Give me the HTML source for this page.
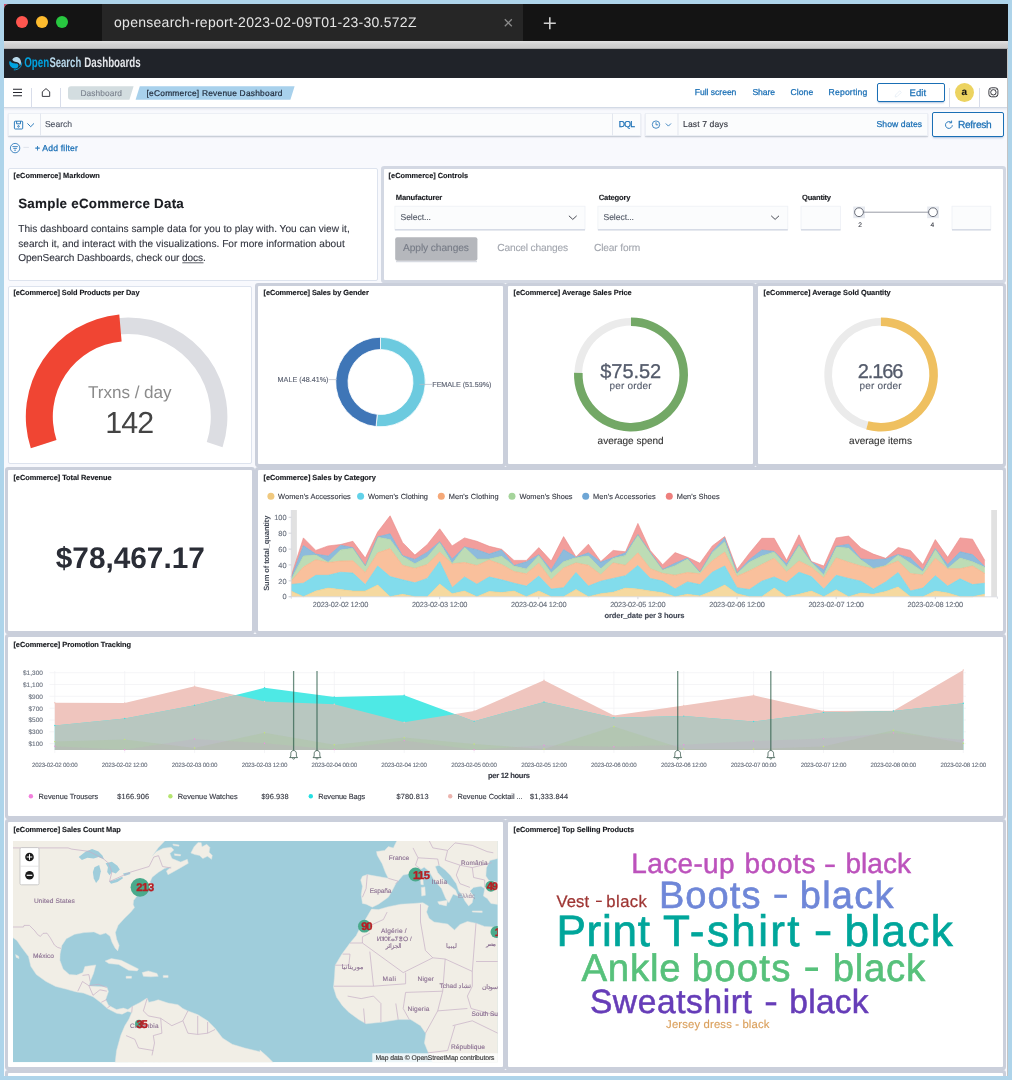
<!DOCTYPE html>
<html lang="en">
<head>
<meta charset="utf-8">
<title>opensearch-report-2023-02-09T01-23-30.572Z</title>
<style>
*{box-sizing:border-box;margin:0;padding:0}
html,body{width:1012px;height:1080px;overflow:hidden}
body{background:#aed4ea;font-family:"Liberation Sans",sans-serif;position:relative}
.win{position:absolute;left:4px;top:4px;width:1004px;height:1072px;background:#f8f9fd;overflow:hidden;border-radius:5px 0 0 0}
.corner{position:absolute;left:4px;top:4px;width:6px;height:6px;background:#d0506e}
.titlebar{position:absolute;left:0;top:0;width:1004px;height:37px;background:#141414}
.tab{position:absolute;left:98px;top:0;width:421px;height:37px;background:#262626}
.dot{position:absolute;top:12px;width:12px;height:12px;border-radius:50%}
.strip{position:absolute;left:0;top:37px;width:1004px;height:8px;background:linear-gradient(#e2e2e2,#d2d2d2 40%,#cbcbcb 85%,#9a9a9a)}
.header{position:absolute;left:0;top:45px;width:1002.8px;height:29px;background:#202329}
.nav{position:absolute;left:0;top:74px;width:1003px;height:30px;background:#fff;border-bottom:1px solid #d3dae6;box-shadow:0 1px 2px rgba(150,160,185,.25)}
.vsep{position:absolute;top:84px;width:1px;height:20px;background:#d8ddea}
.crumb{position:absolute;top:82px;height:14px}
.box{position:absolute;background:#fbfcfd;border:1px solid #eceff5;box-shadow:0 1px 1px rgba(152,162,179,.35),0 2px 2px -1px rgba(152,162,179,.3)}
.btn{position:absolute;border:1px solid #1a6fb5;border-radius:2px;background:#fff;box-shadow:0 2px 2px -1px rgba(80,120,180,.45)}
.panel{position:absolute;background:#fff;border-radius:2px}
.md{border:1px solid #dde3ee}
.ctl{box-shadow:0 0 0 3px #d3d8e3;border-radius:1px}
.bd{box-shadow:0 0 0 3px #cacfdb;border-radius:1px}
.redge{position:absolute;left:1002.8px;top:45px;width:1.2px;height:1027px;background:#c4c4c4;z-index:5}
.avatar{position:absolute;left:950.9px;top:79.1px;width:19px;height:19px;border-radius:50%;background:#ecd360}
svg.ov{position:absolute;left:0;top:0;width:1012px;height:1080px;font-family:"Liberation Sans",sans-serif;will-change:transform;text-rendering:geometricPrecision}
</style>
</head>
<body>
<div class="corner"></div>
<div class="win">
  <div class="titlebar">
    <div class="tab"></div>
    <div class="dot" style="left:12px;background:#ff564f"></div>
    <div class="dot" style="left:32px;background:#febc2e"></div>
    <div class="dot" style="left:52px;background:#28c840"></div>
  </div>
  <div class="strip"></div>
  <div class="header"></div>
  <div class="redge"></div>
  <div class="nav"></div>
  <div class="vsep" style="left:27px"></div>
  <div class="vsep" style="left:56px"></div>
  <div class="vsep" style="left:945px"></div>
  <div class="vsep" style="left:975px"></div>
  <div class="avatar"></div>
  <div class="btn" style="left:873px;top:79px;width:68px;height:19px"></div>
  <!-- query bar -->
  <div class="box" style="left:4px;top:109px;width:633px;height:23px"></div>
  <div class="box" style="left:641.4px;top:109px;width:282.6px;height:23px"></div>
  <div class="btn" style="left:928px;top:108px;width:72px;height:25px;background:#fbfcfd"></div>
  <!-- dashboard -->
  <div class="panel md"  style="left:3.6px;top:164px;width:370px;height:112.5px"></div>
  <div class="panel ctl" style="left:379.5px;top:164.8px;width:619.3px;height:111.3px"></div>
  <div class="panel md" style="left:4.2px;top:281.7px;width:244.2px;height:178.6px"></div>
  <div class="panel bd" style="left:254.3px;top:281.7px;width:244.7px;height:178.6px"></div>
  <div class="panel bd" style="left:504.1px;top:281.7px;width:244.9px;height:178.6px"></div>
  <div class="panel bd" style="left:754.4px;top:281.7px;width:244.2px;height:178.6px"></div>
  <div class="panel bd" style="left:4.2px;top:465.8px;width:244.2px;height:161.7px"></div>
  <div class="panel bd" style="left:254.3px;top:465.8px;width:744.3px;height:161.7px"></div>
  <div class="panel bd" style="left:4.2px;top:633.4px;width:994.4px;height:178.4px"></div>
  <div class="panel bd" style="left:4.2px;top:818.3px;width:494.8px;height:244.7px"></div>
  <div class="panel bd" style="left:504.1px;top:818.3px;width:494.5px;height:244.7px"></div>
  <div class="panel bd" style="left:4.2px;top:1069px;width:994.4px;height:10px"></div>
</div>
<svg class="ov" viewBox="0 0 1012 1080">
<text x="114.0" y="26.6" font-size="14" fill="#e6e6e6" textLength="302.5" lengthAdjust="spacing">opensearch-report-2023-02-09T01-23-30.572Z</text>
<path d="M504.8,19.3 l7,7 m0,-7 l-7,7" stroke="#8a8a8a" stroke-width="1.3" fill="none"/>
<path d="M543.8,23.2 h12 m-6,-6 v12" stroke="#d0d0d0" stroke-width="1.6" fill="none"/>
<g transform="translate(15.4,63.3)"><path d="M-6.2,-1.5 C-6.5,2.5 -3.5,5.6 0.2,5.2 C2.6,4.9 3.8,2.6 2.6,1 C1.4,-0.6 -1.6,0.6 -3.4,-0.6 C-4.8,-1.6 -5.2,-2.6 -6.2,-1.5 Z" fill="#00a3e0"/><path d="M-3,-3.8 C-2,-6.6 2.4,-7.2 4.6,-4.4 C6.2,-2.3 5.8,0.8 4.4,2.6 C4.6,0.4 3.2,-0.9 1,-1.2 C-1,-1.5 -2.8,-2.2 -3,-3.8 Z" fill="#b9d9eb"/><path d="M6.3,-0.8 C6.6,3.6 3,6.6 -1.6,6.6" stroke="#00a3e0" stroke-width="0.9" fill="none"/></g>
<text transform="translate(24.2,67.0) scale(0.699,1)" font-size="14" fill="#00a3e0" font-weight="bold">Open</text>
<text transform="translate(49.4,67.0) scale(0.681,1)" font-size="14" fill="#b9d9eb" font-weight="bold">Search</text>
<text transform="translate(84.3,67.0) scale(0.697,1)" font-size="14" fill="#e4e6ea" font-weight="bold">Dashboards</text>
<path d="M13,89.3 h9 M13,92.5 h9 M13,95.7 h9" stroke="#25262e" stroke-width="1.1"/>
<path d="M42.3,96.4 v-4.6 l3.7,-3.2 l3.7,3.2 v4.6 z" stroke="#25262e" stroke-width="0.9" fill="none"/>
<path d="M71,86.2 H133.6 L129.4,99.8 H71 a3,3 0 0 1 -3,-3 V89.2 a3,3 0 0 1 3,-3 z" fill="#d3dde0"/>
<path d="M139.8,86.2 H294.6 L290.4,99.8 H135.6 z" fill="#a8d1ec"/>
<text x="80.5" y="95.8" font-size="8.4" fill="#7b828e" textLength="41.5" lengthAdjust="spacing" stroke="#7b828e" stroke-width="0.12">Dashboard</text>
<text x="146.5" y="95.8" font-size="8.4" fill="#1f2a3a" textLength="136.0" lengthAdjust="spacing" stroke="#1f2a3a" stroke-width="0.2">[eCommerce] Revenue Dashboard</text>
<text x="694.8" y="95.0" font-size="8.6" fill="#1a6fb5" textLength="41.6" lengthAdjust="spacing" stroke="#1a6fb5" stroke-width="0.25">Full screen</text>
<text x="752.5" y="95.0" font-size="8.6" fill="#1a6fb5" textLength="22.5" lengthAdjust="spacing" stroke="#1a6fb5" stroke-width="0.25">Share</text>
<text x="790.6" y="95.0" font-size="8.6" fill="#1a6fb5" textLength="22.6" lengthAdjust="spacing" stroke="#1a6fb5" stroke-width="0.25">Clone</text>
<text x="828.6" y="95.0" font-size="8.6" fill="#1a6fb5" textLength="38.7" lengthAdjust="spacing" stroke="#1a6fb5" stroke-width="0.25">Reporting</text>
<text x="909.6" y="95.5" font-size="9.5" fill="#1a6fb5" textLength="16.6" lengthAdjust="spacing" stroke="#1a6fb5" stroke-width="0.25">Edit</text>
<path d="M895.5,95 l4.2,-4.2 l1.6,1.6 l-4.2,4.2 l-2,0.4 z" stroke="#e4ecf5" stroke-width="0.8" fill="none"/>
<text x="964.3" y="95.1" font-size="10" fill="#111" font-weight="bold" text-anchor="middle" stroke="#111" stroke-width="0.12">a</text>
<g stroke="#25262e" fill="none" stroke-width="0.9"><rect x="988.9" y="87.8" width="9" height="9" rx="2.6"/><circle cx="993.4" cy="92.3" r="2.7"/><path d="M990,88.9 l1.3,1.3 M996.8,88.9 l-1.3,1.3 M990,95.7 l1.3,-1.3 M996.8,95.7 l-1.3,-1.3" stroke-width="0.6" stroke="#555"/></g>
<g stroke="#1a6fb5" fill="none" stroke-width="0.9"><rect x="14.4" y="121.2" width="8.3" height="7.8" rx="0.8"/><path d="M16.6,121.2 v2.6 h3.9 v-2.6"/><circle cx="18.5" cy="126.4" r="0.8"/></g>
<path d="M27.4,123.4 l3.3,3.3 l3.3,-3.3" stroke="#1a6fb5" stroke-width="0.9" fill="none"/>
<path d="M40.5,113.5 v22 M612.5,113.5 v22 M678,113.5 v22" stroke="#e3e7ef" stroke-width="1"/>
<text x="44.9" y="127.1" font-size="8.6" fill="#4b5160" textLength="27.2" lengthAdjust="spacing" stroke="#4b5160" stroke-width="0.12">Search</text>
<text x="618.7" y="127.1" font-size="8.6" fill="#1a6fb5" textLength="16.3" lengthAdjust="spacing" stroke="#1a6fb5" stroke-width="0.25">DQL</text>
<g stroke="#1a6fb5" fill="none" stroke-width="0.8"><circle cx="656" cy="124.6" r="3.7"/><path d="M656,122.2 v2.6 h2.2"/></g>
<path d="M665.8,123.5 l2.6,2.6 l2.6,-2.6" stroke="#1a6fb5" stroke-width="0.8" fill="none"/>
<text x="683.0" y="127.1" font-size="8.6" fill="#343741" textLength="45.0" lengthAdjust="spacing" stroke="#343741" stroke-width="0.12">Last 7 days</text>
<text x="876.5" y="127.1" font-size="8.6" fill="#1a6fb5" textLength="45.6" lengthAdjust="spacing" stroke="#1a6fb5" stroke-width="0.25">Show dates</text>
<g stroke="#1a6fb5" fill="none" stroke-width="0.9"><path d="M951.3,122.6 a3.4,3.4 0 1 0 1,2.6"/><path d="M951.6,120.6 v2.2 h-2.2"/></g>
<text x="957.9" y="127.8" font-size="10.2" fill="#1a6fb5" textLength="33.8" lengthAdjust="spacing" stroke="#1a6fb5" stroke-width="0.25">Refresh</text>
<g stroke="#1a6fb5" fill="none" stroke-width="0.8"><circle cx="15.1" cy="148.1" r="4.7"/><path d="M12.4,146.6 h5.4 M13.3,148.4 h3.6 M14.2,150.2 h1.8"/></g>
<path d="M23.4,147.4 h5.5" stroke="#dfe3ec" stroke-width="1"/>
<text x="35.0" y="151.2" font-size="8.6" fill="#1a6fb5" textLength="42.9" lengthAdjust="spacing" stroke="#1a6fb5" stroke-width="0.25">+ Add filter</text>
<text x="13.4" y="177.9" font-size="7.4" fill="#1a1c21" font-weight="bold" textLength="86.4" lengthAdjust="spacing" stroke="#1a1c21" stroke-width="0.15">[eCommerce] Markdown</text>
<text x="388.6" y="177.9" font-size="7.4" fill="#1a1c21" font-weight="bold" textLength="79.5" lengthAdjust="spacing" stroke="#1a1c21" stroke-width="0.15">[eCommerce] Controls</text>
<text x="13.4" y="294.7" font-size="7.4" fill="#1a1c21" font-weight="bold" textLength="126.1" lengthAdjust="spacing" stroke="#1a1c21" stroke-width="0.15">[eCommerce] Sold Products per Day</text>
<text x="263.5" y="294.7" font-size="7.4" fill="#1a1c21" font-weight="bold" textLength="105.3" lengthAdjust="spacing" stroke="#1a1c21" stroke-width="0.15">[eCommerce] Sales by Gender</text>
<text x="513.5" y="294.7" font-size="7.4" fill="#1a1c21" font-weight="bold" textLength="118.2" lengthAdjust="spacing" stroke="#1a1c21" stroke-width="0.15">[eCommerce] Average Sales Price</text>
<text x="763.6" y="294.7" font-size="7.4" fill="#1a1c21" font-weight="bold" textLength="127.1" lengthAdjust="spacing" stroke="#1a1c21" stroke-width="0.15">[eCommerce] Average Sold Quantity</text>
<text x="13.4" y="479.5" font-size="7.4" fill="#1a1c21" font-weight="bold" textLength="98.2" lengthAdjust="spacing" stroke="#1a1c21" stroke-width="0.15">[eCommerce] Total Revenue</text>
<text x="263.5" y="479.5" font-size="7.4" fill="#1a1c21" font-weight="bold" textLength="112.3" lengthAdjust="spacing" stroke="#1a1c21" stroke-width="0.15">[eCommerce] Sales by Category</text>
<text x="13.4" y="647.1" font-size="7.4" fill="#1a1c21" font-weight="bold" textLength="117.6" lengthAdjust="spacing" stroke="#1a1c21" stroke-width="0.15">[eCommerce] Promotion Tracking</text>
<text x="13.4" y="831.6" font-size="7.4" fill="#1a1c21" font-weight="bold" textLength="107.4" lengthAdjust="spacing" stroke="#1a1c21" stroke-width="0.15">[eCommerce] Sales Count Map</text>
<text x="513.5" y="831.6" font-size="7.4" fill="#1a1c21" font-weight="bold" textLength="120.5" lengthAdjust="spacing" stroke="#1a1c21" stroke-width="0.15">[eCommerce] Top Selling Products</text>
<text x="18.2" y="207.8" font-size="13.4" fill="#1a1c21" font-weight="bold" textLength="165.6" lengthAdjust="spacing" stroke="#1a1c21" stroke-width="0.12">Sample eCommerce Data</text>
<text x="18.2" y="231.9" font-size="10.1" fill="#343741" textLength="331.5" lengthAdjust="spacing" stroke="#343741" stroke-width="0.12">This dashboard contains sample data for you to play with. You can view it,</text>
<text x="18.2" y="246.6" font-size="10.1" fill="#343741" textLength="326.5" lengthAdjust="spacing" stroke="#343741" stroke-width="0.12">search it, and interact with the visualizations. For more information about</text>
<text x="18.2" y="261.3" font-size="10.1" fill="#343741" textLength="187.6" lengthAdjust="spacing" stroke="#343741" stroke-width="0.12">OpenSearch Dashboards, check our docs.</text>
<path d="M182.3,262.8 h21.2" stroke="#343741" stroke-width="0.8"/>
<text x="395.8" y="200.3" font-size="7.6" fill="#1a1c21" font-weight="bold" textLength="46.5" lengthAdjust="spacing" stroke="#1a1c21" stroke-width="0.12">Manufacturer</text>
<text x="598.8" y="200.3" font-size="7.6" fill="#1a1c21" font-weight="bold" textLength="31.6" lengthAdjust="spacing" stroke="#1a1c21" stroke-width="0.12">Category</text>
<text x="802.0" y="200.3" font-size="7.6" fill="#1a1c21" font-weight="bold" textLength="29.0" lengthAdjust="spacing" stroke="#1a1c21" stroke-width="0.12">Quantity</text>
<rect x="394.9" y="206.2" width="190.1" height="23.2" fill="#fbfcfd" stroke="#eef1f6" stroke-width="0.8"/>
<path d="M394.9,229.8 H585" stroke="#cdd3e0" stroke-width="1.2"/>
<rect x="597.9" y="206.2" width="189.9" height="23.2" fill="#fbfcfd" stroke="#eef1f6" stroke-width="0.8"/>
<path d="M597.9,229.8 H787.8" stroke="#cdd3e0" stroke-width="1.2"/>
<rect x="801" y="206.2" width="39.6" height="23.2" fill="#fbfcfd" stroke="#eef1f6" stroke-width="0.8"/>
<path d="M801,229.8 H840.6" stroke="#cdd3e0" stroke-width="1.2"/>
<rect x="952" y="206.2" width="38.8" height="23.2" fill="#fbfcfd" stroke="#eef1f6" stroke-width="0.8"/>
<path d="M952,229.8 H990.8" stroke="#cdd3e0" stroke-width="1.2"/>
<text x="400.5" y="220.2" font-size="8.6" fill="#555b68" textLength="30.5" lengthAdjust="spacing" stroke="#555b68" stroke-width="0.12">Select...</text>
<text x="603.5" y="220.2" font-size="8.6" fill="#555b68" textLength="30.5" lengthAdjust="spacing" stroke="#555b68" stroke-width="0.12">Select...</text>
<path d="M568.9,215.8 l3.9,3.6 l3.9,-3.6 M771.2,215.8 l3.9,3.6 l3.9,-3.6" stroke="#343741" stroke-width="0.9" fill="none"/>
<rect x="853.3" y="206.5" width="11.7" height="11.7" fill="#e6e9ef"/><rect x="927.2" y="206.5" width="11.7" height="11.7" fill="#e6e9ef"/>
<path d="M859,212.2 H933" stroke="#8d919c" stroke-width="0.9"/>
<circle cx="859" cy="212.2" r="4.4" fill="#fff" stroke="#5a5f6b" stroke-width="0.9"/><circle cx="933" cy="212.2" r="4.4" fill="#fff" stroke="#5a5f6b" stroke-width="0.9"/>
<text x="860.2" y="227.0" font-size="6.6" fill="#343741" text-anchor="middle" stroke="#343741" stroke-width="0.12">2</text>
<text x="932.3" y="227.0" font-size="6.6" fill="#343741" text-anchor="middle" stroke="#343741" stroke-width="0.12">4</text>
<rect x="395.2" y="237.2" width="82.2" height="23.6" rx="2" fill="#b5b7bc"/>
<path d="M396,261.6 H477" stroke="#d7dae1" stroke-width="1.4"/>
<text x="403.0" y="250.9" font-size="10.2" fill="#777c87" textLength="65.9" lengthAdjust="spacing" stroke="#777c87" stroke-width="0.12">Apply changes</text>
<text x="497.3" y="250.7" font-size="10.2" fill="#a3a7af" textLength="70.7" lengthAdjust="spacing" stroke="#a3a7af" stroke-width="0.12">Cancel changes</text>
<text x="594.0" y="250.7" font-size="10.2" fill="#a3a7af" textLength="46.2" lengthAdjust="spacing" stroke="#a3a7af" stroke-width="0.12">Clear form</text>
<path d="M33.86,447.25 A99.2,99.2 0 1 1 222.54,447.25 L206.76,442.12 A82.6,82.6 0 1 0 49.64,442.12 Z" fill="#dcdde2"/>
<path d="M30.81,448.24 A102.4,102.4 0 0 1 119.28,314.59 L121.63,341.49 A75.4,75.4 0 0 0 56.49,439.90 Z" fill="#f04533"/>
<text x="129.8" y="398.2" font-size="17.1" fill="#8b8b8b" text-anchor="middle" textLength="83.5" lengthAdjust="spacing">Trxns / day</text>
<text x="129.8" y="432.9" font-size="30.4" fill="#444444" text-anchor="middle" textLength="48.9" lengthAdjust="spacing">142</text>
<path d="M380.50,337.20 A44.8,44.8 0 1 1 376.05,426.58 L377.27,414.34 A32.5,32.5 0 1 0 380.50,349.50 Z" fill="#6ccadf" stroke="#fff" stroke-width="0.8"/>
<path d="M376.05,426.58 A44.8,44.8 0 0 1 380.50,337.20 L380.50,349.50 A32.5,32.5 0 0 0 377.27,414.34 Z" fill="#3f76b7" stroke="#fff" stroke-width="0.8"/>
<path d="M328.5,379.6 H337 M419.4,384.4 H432" stroke="#b8bcc6" stroke-width="0.7"/>
<text x="277.6" y="382.2" font-size="7.2" fill="#5a6070" textLength="50.9" lengthAdjust="spacing" stroke="#5a6070" stroke-width="0.12">MALE (48.41%)</text>
<text x="432.3" y="387.4" font-size="7.2" fill="#5a6070" textLength="59.1" lengthAdjust="spacing" stroke="#5a6070" stroke-width="0.12">FEMALE (51.59%)</text>
<path d="M574.43,372.65 A56.6,56.6 0 0 1 631.00,317.90 L631.00,325.60 A48.9,48.9 0 0 0 582.13,372.90 Z" fill="#ebebeb"/>
<path d="M631.00,317.50 A57,57 0 1 1 574.03,372.64 L582.63,372.92 A48.4,48.4 0 1 0 631.00,326.10 Z" fill="#73a866"/>
<text x="630.7" y="378.4" font-size="20" fill="#545b6b" text-anchor="middle" textLength="61.0" lengthAdjust="spacing" stroke="#545b6b" stroke-width="0.3">$75.52</text>
<text x="630.6" y="389.1" font-size="10" fill="#545b6b" text-anchor="middle" textLength="42.2" lengthAdjust="spacing" stroke="#545b6b" stroke-width="0.12">per order</text>
<text x="630.6" y="444.4" font-size="10" fill="#343434" text-anchor="middle" textLength="66.0" lengthAdjust="spacing" stroke="#343434" stroke-width="0.12">average spend</text>
<path d="M866.31,429.19 A56.6,56.6 0 0 1 880.90,317.90 L880.90,325.60 A48.9,48.9 0 0 0 868.29,421.75 Z" fill="#ebebeb"/>
<path d="M880.90,317.50 A57,57 0 1 1 866.20,429.57 L868.42,421.26 A48.4,48.4 0 1 0 880.90,326.10 Z" fill="#efc060"/>
<text x="880.6" y="378.4" font-size="20" fill="#545b6b" text-anchor="middle" textLength="45.7" lengthAdjust="spacing" stroke="#545b6b" stroke-width="0.3">2.166</text>
<text x="880.5" y="389.1" font-size="10" fill="#545b6b" text-anchor="middle" textLength="42.2" lengthAdjust="spacing" stroke="#545b6b" stroke-width="0.12">per order</text>
<text x="880.5" y="444.4" font-size="10" fill="#343434" text-anchor="middle" textLength="62.8" lengthAdjust="spacing" stroke="#343434" stroke-width="0.12">average items</text>
<text x="130.3" y="568.1" font-size="29.8" fill="#2a2d36" font-weight="bold" text-anchor="middle" textLength="149.0" lengthAdjust="spacing">$78,467.17</text>
<rect x="291.5" y="510" width="5.4" height="86.7" fill="#e1e1e1"/>
<rect x="991.2" y="510" width="5.8" height="86.7" fill="#e1e1e1"/>
<polygon points="291.0,576.9 303.4,537.9 315.8,550.4 328.2,545.9 340.6,544.5 352.9,541.3 365.3,558.0 377.7,532.0 390.1,515.8 402.5,542.4 414.9,555.1 427.3,544.5 439.7,528.8 452.1,545.9 464.5,537.9 476.9,541.3 489.2,546.3 501.6,549.3 514.0,560.4 526.4,560.4 538.8,547.6 551.2,561.0 563.6,536.6 576.0,556.9 588.4,544.2 600.8,561.5 613.1,550.4 625.5,551.8 637.9,523.4 650.3,550.6 662.7,564.7 675.1,552.6 687.5,557.3 699.9,563.2 712.3,545.9 724.7,536.6 737.0,569.4 749.4,553.2 761.8,538.3 774.2,538.3 786.6,560.3 799.0,534.8 811.4,561.5 823.8,566.0 836.2,537.9 848.6,536.1 860.9,547.9 873.3,554.1 885.7,558.3 898.1,547.5 910.5,550.4 922.9,564.5 935.3,539.6 947.7,557.3 960.1,537.9 972.5,539.2 984.8,560.4 984.8,566.6 972.5,554.6 960.1,551.8 947.7,564.5 935.3,548.6 922.9,570.1 910.5,558.0 898.1,554.5 885.7,559.0 873.3,559.7 860.9,559.0 848.6,544.2 836.2,546.3 823.8,570.1 811.4,561.8 799.0,544.5 786.6,563.8 774.2,551.4 761.8,550.0 749.4,559.7 737.0,572.9 724.7,537.8 712.3,551.4 699.9,571.9 687.5,558.0 675.1,563.2 662.7,569.4 650.3,552.5 637.9,534.5 625.5,552.8 613.1,557.6 600.8,562.1 588.4,552.8 576.0,557.3 563.6,549.6 551.2,569.8 538.8,554.7 526.4,561.8 514.0,565.5 501.6,550.0 489.2,554.1 476.9,549.7 464.5,546.9 452.1,559.0 439.7,541.7 427.3,552.2 414.9,559.4 402.5,555.6 390.1,533.8 377.7,536.8 365.3,565.7 352.9,547.6 340.6,545.2 328.2,556.0 315.8,554.1 303.4,545.6 291.0,578.4" fill="#f29e9c"/>
<polygon points="291.0,578.4 303.4,545.6 315.8,554.1 328.2,556.0 340.6,545.2 352.9,547.6 365.3,565.7 377.7,536.8 390.1,533.8 402.5,555.6 414.9,559.4 427.3,552.2 439.7,541.7 452.1,559.0 464.5,546.9 476.9,549.7 489.2,554.1 501.6,550.0 514.0,565.5 526.4,561.8 538.8,554.7 551.2,569.8 563.6,549.6 576.0,557.3 588.4,552.8 600.8,562.1 613.1,557.6 625.5,552.8 637.9,534.5 650.3,552.5 662.7,569.4 675.1,563.2 687.5,558.0 699.9,571.9 712.3,551.4 724.7,537.8 737.0,572.9 749.4,559.7 761.8,550.0 774.2,551.4 786.6,563.8 799.0,544.5 811.4,561.8 823.8,570.1 836.2,546.3 848.6,544.2 860.9,559.0 873.3,559.7 885.7,559.0 898.1,554.5 910.5,558.0 922.9,570.1 935.3,548.6 947.7,564.5 960.1,551.8 972.5,554.6 984.8,566.6 984.8,567.3 972.5,561.8 960.1,558.0 947.7,568.4 935.3,549.3 922.9,571.7 910.5,563.2 898.1,555.1 885.7,565.5 873.3,568.4 860.9,559.7 848.6,548.2 836.2,546.9 823.8,574.9 811.4,562.5 799.0,545.0 786.6,566.6 774.2,552.1 761.8,556.0 749.4,562.2 737.0,573.6 724.7,541.7 712.3,552.8 699.9,572.2 687.5,559.0 675.1,565.7 662.7,569.9 650.3,552.8 637.9,534.8 625.5,555.6 613.1,558.3 600.8,568.7 588.4,556.0 576.0,557.6 563.6,561.8 551.2,572.9 538.8,555.6 526.4,569.1 514.0,566.0 501.6,556.2 489.2,559.0 476.9,559.0 464.5,547.2 452.1,563.6 439.7,542.4 427.3,557.0 414.9,563.8 402.5,556.2 390.1,539.6 377.7,537.2 365.3,566.0 352.9,548.3 340.6,550.0 328.2,562.2 315.8,554.9 303.4,556.0 291.0,579.6" fill="#8ebbdc"/>
<polygon points="291.0,579.6 303.4,556.0 315.8,554.9 328.2,562.2 340.6,550.0 352.9,548.3 365.3,566.0 377.7,537.2 390.1,539.6 402.5,556.2 414.9,563.8 427.3,557.0 439.7,542.4 452.1,563.6 464.5,547.2 476.9,559.0 489.2,559.0 501.6,556.2 514.0,566.0 526.4,569.1 538.8,555.6 551.2,572.9 563.6,561.8 576.0,557.6 588.4,556.0 600.8,568.7 613.1,558.3 625.5,555.6 637.9,534.8 650.3,552.8 662.7,569.9 675.1,565.7 687.5,559.0 699.9,572.2 712.3,552.8 724.7,541.7 737.0,573.6 749.4,562.2 761.8,556.0 774.2,552.1 786.6,566.6 799.0,545.0 811.4,562.5 823.8,574.9 836.2,546.9 848.6,548.2 860.9,559.7 873.3,568.4 885.7,565.5 898.1,555.1 910.5,563.2 922.9,571.7 935.3,549.3 947.7,568.4 960.1,558.0 972.5,561.8 984.8,567.3 984.8,573.6 972.5,566.0 960.1,568.7 947.7,568.7 935.3,558.3 922.9,574.9 910.5,573.6 898.1,561.0 885.7,566.0 873.3,568.7 860.9,566.0 848.6,562.2 836.2,557.9 823.8,577.7 811.4,567.3 799.0,561.0 786.6,571.9 774.2,558.3 761.8,564.5 749.4,570.8 737.0,576.3 724.7,552.1 712.3,560.8 699.9,573.8 687.5,572.5 675.1,575.2 662.7,573.4 650.3,568.7 637.9,552.8 625.5,565.3 613.1,562.9 600.8,574.7 588.4,565.3 576.0,562.9 563.6,568.0 551.2,579.8 538.8,563.2 526.4,573.8 514.0,571.5 501.6,564.5 489.2,560.0 476.9,565.5 464.5,562.5 452.1,563.8 439.7,552.1 427.3,564.5 414.9,568.4 402.5,565.3 390.1,548.6 377.7,552.8 365.3,572.5 352.9,560.8 340.6,561.0 328.2,562.6 315.8,559.7 303.4,567.1 291.0,581.2" fill="#bddcb5"/>
<polygon points="291.0,581.2 303.4,567.1 315.8,559.7 328.2,562.6 340.6,561.0 352.9,560.8 365.3,572.5 377.7,552.8 390.1,548.6 402.5,565.3 414.9,568.4 427.3,564.5 439.7,552.1 452.1,563.8 464.5,562.5 476.9,565.5 489.2,560.0 501.6,564.5 514.0,571.5 526.4,573.8 538.8,563.2 551.2,579.8 563.6,568.0 576.0,562.9 588.4,565.3 600.8,574.7 613.1,562.9 625.5,565.3 637.9,552.8 650.3,568.7 662.7,573.4 675.1,575.2 687.5,572.5 699.9,573.8 712.3,560.8 724.7,552.1 737.0,576.3 749.4,570.8 761.8,564.5 774.2,558.3 786.6,571.9 799.0,561.0 811.4,567.3 823.8,577.7 836.2,557.9 848.6,562.2 860.9,566.0 873.3,568.7 885.7,566.0 898.1,561.0 910.5,573.6 922.9,574.9 935.3,558.3 947.7,568.7 960.1,568.7 972.5,566.0 984.8,573.6 984.8,583.2 972.5,584.6 960.1,578.8 947.7,586.1 935.3,575.7 922.9,588.1 910.5,590.9 898.1,572.5 885.7,581.9 873.3,589.1 860.9,581.2 848.6,578.4 836.2,575.3 823.8,589.1 811.4,576.6 799.0,572.2 786.6,582.6 774.2,577.0 761.8,581.2 749.4,589.5 737.0,587.7 724.7,566.0 712.3,572.2 699.9,584.6 687.5,581.9 675.1,588.9 662.7,581.1 650.3,578.4 637.9,565.5 625.5,575.7 613.1,578.4 600.8,581.2 588.4,586.1 576.0,572.5 563.6,587.7 551.2,589.1 538.8,576.1 526.4,586.1 514.0,583.2 501.6,579.8 489.2,577.0 476.9,584.2 464.5,577.0 452.1,587.7 439.7,561.5 427.3,578.4 414.9,582.8 402.5,579.8 390.1,576.6 377.7,566.0 365.3,584.6 352.9,573.1 340.6,572.2 328.2,575.3 315.8,575.3 303.4,583.2 291.0,584.4" fill="#f9c09c"/>
<polygon points="291.0,584.4 303.4,583.2 315.8,575.3 328.2,575.3 340.6,572.2 352.9,573.1 365.3,584.6 377.7,566.0 390.1,576.6 402.5,579.8 414.9,582.8 427.3,578.4 439.7,561.5 452.1,587.7 464.5,577.0 476.9,584.2 489.2,577.0 501.6,579.8 514.0,583.2 526.4,586.1 538.8,576.1 551.2,589.1 563.6,587.7 576.0,572.5 588.4,586.1 600.8,581.2 613.1,578.4 625.5,575.7 637.9,565.5 650.3,578.4 662.7,581.1 675.1,588.9 687.5,581.9 699.9,584.6 712.3,572.2 724.7,566.0 737.0,587.7 749.4,589.5 761.8,581.2 774.2,577.0 786.6,582.6 799.0,572.2 811.4,576.6 823.8,589.1 836.2,575.3 848.6,578.4 860.9,581.2 873.3,589.1 885.7,581.9 898.1,572.5 910.5,590.9 922.9,588.1 935.3,575.7 947.7,586.1 960.1,578.8 972.5,584.6 984.8,583.2 984.8,594.3 972.5,596.7 960.1,596.7 947.7,593.0 935.3,591.1 922.9,596.7 910.5,596.7 898.1,587.0 885.7,591.5 873.3,594.3 860.9,593.0 848.6,596.7 836.2,589.8 823.8,596.7 811.4,591.1 799.0,594.3 786.6,596.7 774.2,588.1 761.8,596.7 749.4,596.7 737.0,593.7 724.7,585.0 712.3,591.1 699.9,596.0 687.5,594.3 675.1,596.7 662.7,592.7 650.3,591.1 637.9,589.1 625.5,588.1 613.1,592.3 600.8,593.7 588.4,596.7 576.0,589.6 563.6,596.7 551.2,596.7 538.8,591.1 526.4,596.7 514.0,591.1 501.6,592.6 489.2,591.5 476.9,596.7 464.5,591.1 452.1,593.7 439.7,584.0 427.3,596.7 414.9,596.7 402.5,594.3 390.1,596.7 377.7,585.0 365.3,591.1 352.9,591.1 340.6,589.6 328.2,588.1 315.8,591.1 303.4,596.7 291.0,591.1" fill="#82dcec"/>
<polygon points="291.0,591.1 303.4,596.7 315.8,591.1 328.2,588.1 340.6,589.6 352.9,591.1 365.3,591.1 377.7,585.0 390.1,596.7 402.5,594.3 414.9,596.7 427.3,596.7 439.7,584.0 452.1,593.7 464.5,591.1 476.9,596.7 489.2,591.5 501.6,592.6 514.0,591.1 526.4,596.7 538.8,591.1 551.2,596.7 563.6,596.7 576.0,589.6 588.4,596.7 600.8,593.7 613.1,592.3 625.5,588.1 637.9,589.1 650.3,591.1 662.7,592.7 675.1,596.7 687.5,594.3 699.9,596.0 712.3,591.1 724.7,585.0 737.0,593.7 749.4,596.7 761.8,596.7 774.2,588.1 786.6,596.7 799.0,594.3 811.4,591.1 823.8,596.7 836.2,589.8 848.6,596.7 860.9,593.0 873.3,594.3 885.7,591.5 898.1,587.0 910.5,596.7 922.9,596.7 935.3,591.1 947.7,593.0 960.1,596.7 972.5,596.7 984.8,594.3 984.8,596.7 972.5,596.7 960.1,596.7 947.7,596.7 935.3,596.7 922.9,596.7 910.5,596.7 898.1,596.7 885.7,596.7 873.3,596.7 860.9,596.7 848.6,596.7 836.2,596.7 823.8,596.7 811.4,596.7 799.0,596.7 786.6,596.7 774.2,596.7 761.8,596.7 749.4,596.7 737.0,596.7 724.7,596.7 712.3,596.7 699.9,596.7 687.5,596.7 675.1,596.7 662.7,596.7 650.3,596.7 637.9,596.7 625.5,596.7 613.1,596.7 600.8,596.7 588.4,596.7 576.0,596.7 563.6,596.7 551.2,596.7 538.8,596.7 526.4,596.7 514.0,596.7 501.6,596.7 489.2,596.7 476.9,596.7 464.5,596.7 452.1,596.7 439.7,596.7 427.3,596.7 414.9,596.7 402.5,596.7 390.1,596.7 377.7,596.7 365.3,596.7 352.9,596.7 340.6,596.7 328.2,596.7 315.8,596.7 303.4,596.7 291.0,596.7" fill="#f5d9a0"/>
<polyline points="291.0,591.1 303.4,596.7 315.8,591.1 328.2,588.1 340.6,589.6 352.9,591.1 365.3,591.1 377.7,585.0 390.1,596.7 402.5,594.3 414.9,596.7 427.3,596.7 439.7,584.0 452.1,593.7 464.5,591.1 476.9,596.7 489.2,591.5 501.6,592.6 514.0,591.1 526.4,596.7 538.8,591.1 551.2,596.7 563.6,596.7 576.0,589.6 588.4,596.7 600.8,593.7 613.1,592.3 625.5,588.1 637.9,589.1 650.3,591.1 662.7,592.7 675.1,596.7 687.5,594.3 699.9,596.0 712.3,591.1 724.7,585.0 737.0,593.7 749.4,596.7 761.8,596.7 774.2,588.1 786.6,596.7 799.0,594.3 811.4,591.1 823.8,596.7 836.2,589.8 848.6,596.7 860.9,593.0 873.3,594.3 885.7,591.5 898.1,587.0 910.5,596.7 922.9,596.7 935.3,591.1 947.7,593.0 960.1,596.7 972.5,596.7 984.8,594.3" fill="none" stroke="#eecb86" stroke-width="0.6" stroke-linejoin="round"/>
<polyline points="291.0,584.4 303.4,583.2 315.8,575.3 328.2,575.3 340.6,572.2 352.9,573.1 365.3,584.6 377.7,566.0 390.1,576.6 402.5,579.8 414.9,582.8 427.3,578.4 439.7,561.5 452.1,587.7 464.5,577.0 476.9,584.2 489.2,577.0 501.6,579.8 514.0,583.2 526.4,586.1 538.8,576.1 551.2,589.1 563.6,587.7 576.0,572.5 588.4,586.1 600.8,581.2 613.1,578.4 625.5,575.7 637.9,565.5 650.3,578.4 662.7,581.1 675.1,588.9 687.5,581.9 699.9,584.6 712.3,572.2 724.7,566.0 737.0,587.7 749.4,589.5 761.8,581.2 774.2,577.0 786.6,582.6 799.0,572.2 811.4,576.6 823.8,589.1 836.2,575.3 848.6,578.4 860.9,581.2 873.3,589.1 885.7,581.9 898.1,572.5 910.5,590.9 922.9,588.1 935.3,575.7 947.7,586.1 960.1,578.8 972.5,584.6 984.8,583.2" fill="none" stroke="#6fd3e6" stroke-width="0.6" stroke-linejoin="round"/>
<polyline points="291.0,581.2 303.4,567.1 315.8,559.7 328.2,562.6 340.6,561.0 352.9,560.8 365.3,572.5 377.7,552.8 390.1,548.6 402.5,565.3 414.9,568.4 427.3,564.5 439.7,552.1 452.1,563.8 464.5,562.5 476.9,565.5 489.2,560.0 501.6,564.5 514.0,571.5 526.4,573.8 538.8,563.2 551.2,579.8 563.6,568.0 576.0,562.9 588.4,565.3 600.8,574.7 613.1,562.9 625.5,565.3 637.9,552.8 650.3,568.7 662.7,573.4 675.1,575.2 687.5,572.5 699.9,573.8 712.3,560.8 724.7,552.1 737.0,576.3 749.4,570.8 761.8,564.5 774.2,558.3 786.6,571.9 799.0,561.0 811.4,567.3 823.8,577.7 836.2,557.9 848.6,562.2 860.9,566.0 873.3,568.7 885.7,566.0 898.1,561.0 910.5,573.6 922.9,574.9 935.3,558.3 947.7,568.7 960.1,568.7 972.5,566.0 984.8,573.6" fill="none" stroke="#f3ae82" stroke-width="0.6" stroke-linejoin="round"/>
<polyline points="291.0,579.6 303.4,556.0 315.8,554.9 328.2,562.2 340.6,550.0 352.9,548.3 365.3,566.0 377.7,537.2 390.1,539.6 402.5,556.2 414.9,563.8 427.3,557.0 439.7,542.4 452.1,563.6 464.5,547.2 476.9,559.0 489.2,559.0 501.6,556.2 514.0,566.0 526.4,569.1 538.8,555.6 551.2,572.9 563.6,561.8 576.0,557.6 588.4,556.0 600.8,568.7 613.1,558.3 625.5,555.6 637.9,534.8 650.3,552.8 662.7,569.9 675.1,565.7 687.5,559.0 699.9,572.2 712.3,552.8 724.7,541.7 737.0,573.6 749.4,562.2 761.8,556.0 774.2,552.1 786.6,566.6 799.0,545.0 811.4,562.5 823.8,574.9 836.2,546.9 848.6,548.2 860.9,559.7 873.3,568.4 885.7,565.5 898.1,555.1 910.5,563.2 922.9,571.7 935.3,549.3 947.7,568.4 960.1,558.0 972.5,561.8 984.8,567.3" fill="none" stroke="#a9d19f" stroke-width="0.6" stroke-linejoin="round"/>
<polyline points="291.0,578.4 303.4,545.6 315.8,554.1 328.2,556.0 340.6,545.2 352.9,547.6 365.3,565.7 377.7,536.8 390.1,533.8 402.5,555.6 414.9,559.4 427.3,552.2 439.7,541.7 452.1,559.0 464.5,546.9 476.9,549.7 489.2,554.1 501.6,550.0 514.0,565.5 526.4,561.8 538.8,554.7 551.2,569.8 563.6,549.6 576.0,557.3 588.4,552.8 600.8,562.1 613.1,557.6 625.5,552.8 637.9,534.5 650.3,552.5 662.7,569.4 675.1,563.2 687.5,558.0 699.9,571.9 712.3,551.4 724.7,537.8 737.0,572.9 749.4,559.7 761.8,550.0 774.2,551.4 786.6,563.8 799.0,544.5 811.4,561.8 823.8,570.1 836.2,546.3 848.6,544.2 860.9,559.0 873.3,559.7 885.7,559.0 898.1,554.5 910.5,558.0 922.9,570.1 935.3,548.6 947.7,564.5 960.1,551.8 972.5,554.6 984.8,566.6" fill="none" stroke="#79aad2" stroke-width="0.6" stroke-linejoin="round"/>
<polyline points="291.0,576.9 303.4,537.9 315.8,550.4 328.2,545.9 340.6,544.5 352.9,541.3 365.3,558.0 377.7,532.0 390.1,515.8 402.5,542.4 414.9,555.1 427.3,544.5 439.7,528.8 452.1,545.9 464.5,537.9 476.9,541.3 489.2,546.3 501.6,549.3 514.0,560.4 526.4,560.4 538.8,547.6 551.2,561.0 563.6,536.6 576.0,556.9 588.4,544.2 600.8,561.5 613.1,550.4 625.5,551.8 637.9,523.4 650.3,550.6 662.7,564.7 675.1,552.6 687.5,557.3 699.9,563.2 712.3,545.9 724.7,536.6 737.0,569.4 749.4,553.2 761.8,538.3 774.2,538.3 786.6,560.3 799.0,534.8 811.4,561.5 823.8,566.0 836.2,537.9 848.6,536.1 860.9,547.9 873.3,554.1 885.7,558.3 898.1,547.5 910.5,550.4 922.9,564.5 935.3,539.6 947.7,557.3 960.1,537.9 972.5,539.2 984.8,560.4" fill="none" stroke="#ea8886" stroke-width="0.6" stroke-linejoin="round"/>
<path d="M291.3,510 V598.8 M288.8,596.8 H997.4 V598.8" stroke="#d5d8de" stroke-width="0.8" fill="none"/>
<path d="M288.6,596.7 H291.3" stroke="#c9ccd3" stroke-width="0.8"/>
<text x="286.6" y="599.4" font-size="7.4" fill="#69707d" text-anchor="end" stroke="#69707d" stroke-width="0.12">0</text>
<path d="M288.6,580.8 H291.3" stroke="#c9ccd3" stroke-width="0.8"/>
<text x="286.6" y="583.5" font-size="7.4" fill="#69707d" text-anchor="end" stroke="#69707d" stroke-width="0.12">20</text>
<path d="M288.6,564.9 H291.3" stroke="#c9ccd3" stroke-width="0.8"/>
<text x="286.6" y="567.6" font-size="7.4" fill="#69707d" text-anchor="end" stroke="#69707d" stroke-width="0.12">40</text>
<path d="M288.6,549.1 H291.3" stroke="#c9ccd3" stroke-width="0.8"/>
<text x="286.6" y="551.8" font-size="7.4" fill="#69707d" text-anchor="end" stroke="#69707d" stroke-width="0.12">60</text>
<path d="M288.6,533.2 H291.3" stroke="#c9ccd3" stroke-width="0.8"/>
<text x="286.6" y="535.9" font-size="7.4" fill="#69707d" text-anchor="end" stroke="#69707d" stroke-width="0.12">80</text>
<path d="M288.6,517.3 H291.3" stroke="#c9ccd3" stroke-width="0.8"/>
<text x="286.6" y="520.0" font-size="7.4" fill="#69707d" text-anchor="end" stroke="#69707d" stroke-width="0.12">100</text>
<path d="M340.6,596.8 v2.4" stroke="#c9ccd3" stroke-width="0.8"/>
<text x="340.6" y="607.2" font-size="7.4" fill="#69707d" text-anchor="middle" textLength="55.5" lengthAdjust="spacing" stroke="#69707d" stroke-width="0.12">2023-02-02 12:00</text>
<path d="M439.7,596.8 v2.4" stroke="#c9ccd3" stroke-width="0.8"/>
<text x="439.7" y="607.2" font-size="7.4" fill="#69707d" text-anchor="middle" textLength="55.5" lengthAdjust="spacing" stroke="#69707d" stroke-width="0.12">2023-02-03 12:00</text>
<path d="M538.8,596.8 v2.4" stroke="#c9ccd3" stroke-width="0.8"/>
<text x="538.8" y="607.2" font-size="7.4" fill="#69707d" text-anchor="middle" textLength="55.5" lengthAdjust="spacing" stroke="#69707d" stroke-width="0.12">2023-02-04 12:00</text>
<path d="M637.9,596.8 v2.4" stroke="#c9ccd3" stroke-width="0.8"/>
<text x="637.9" y="607.2" font-size="7.4" fill="#69707d" text-anchor="middle" textLength="55.5" lengthAdjust="spacing" stroke="#69707d" stroke-width="0.12">2023-02-05 12:00</text>
<path d="M737.0,596.8 v2.4" stroke="#c9ccd3" stroke-width="0.8"/>
<text x="737.0" y="607.2" font-size="7.4" fill="#69707d" text-anchor="middle" textLength="55.5" lengthAdjust="spacing" stroke="#69707d" stroke-width="0.12">2023-02-06 12:00</text>
<path d="M836.2,596.8 v2.4" stroke="#c9ccd3" stroke-width="0.8"/>
<text x="836.2" y="607.2" font-size="7.4" fill="#69707d" text-anchor="middle" textLength="55.5" lengthAdjust="spacing" stroke="#69707d" stroke-width="0.12">2023-02-07 12:00</text>
<path d="M935.3,596.8 v2.4" stroke="#c9ccd3" stroke-width="0.8"/>
<text x="935.3" y="607.2" font-size="7.4" fill="#69707d" text-anchor="middle" textLength="55.5" lengthAdjust="spacing" stroke="#69707d" stroke-width="0.12">2023-02-08 12:00</text>
<text x="644.5" y="617.7" font-size="7.6" fill="#444a57" font-weight="bold" text-anchor="middle" textLength="80.0" lengthAdjust="spacing" stroke="#444a57" stroke-width="0.12">order_date per 3 hours</text>
<text transform="translate(269.3,553.2) rotate(-90)" font-size="7.6" font-weight="bold" fill="#444a57" text-anchor="middle" textLength="75.3" lengthAdjust="spacing">Sum of total_quantity</text>
<circle cx="270.9" cy="496.3" r="3.5" fill="#f0c97f"/>
<text x="278.1" y="498.9" font-size="7.4" fill="#343741" textLength="72.7" lengthAdjust="spacing" stroke="#343741" stroke-width="0.12">Women&#x27;s Accessories</text>
<circle cx="360.6" cy="496.3" r="3.5" fill="#62d2e9"/>
<text x="368.0" y="498.9" font-size="7.4" fill="#343741" textLength="59.9" lengthAdjust="spacing" stroke="#343741" stroke-width="0.12">Women&#x27;s Clothing</text>
<circle cx="441.3" cy="496.3" r="3.5" fill="#f5a878"/>
<text x="448.7" y="498.9" font-size="7.4" fill="#343741" textLength="49.9" lengthAdjust="spacing" stroke="#343741" stroke-width="0.12">Men&#x27;s Clothing</text>
<circle cx="512" cy="496.3" r="3.5" fill="#a5d49b"/>
<text x="519.5" y="498.9" font-size="7.4" fill="#343741" textLength="53.0" lengthAdjust="spacing" stroke="#343741" stroke-width="0.12">Women&#x27;s Shoes</text>
<circle cx="585.7" cy="496.3" r="3.5" fill="#6ea6d5"/>
<text x="593.0" y="498.9" font-size="7.4" fill="#343741" textLength="62.8" lengthAdjust="spacing" stroke="#343741" stroke-width="0.12">Men&#x27;s Accessories</text>
<circle cx="669.3" cy="496.3" r="3.5" fill="#ee7f7d"/>
<text x="676.7" y="498.9" font-size="7.4" fill="#343741" textLength="42.9" lengthAdjust="spacing" stroke="#343741" stroke-width="0.12">Men&#x27;s Shoes</text>
<path d="M49.5,672.7 H966" stroke="#f0f1f4" stroke-width="0.7"/>
<text x="42.9" y="675.0" font-size="6.5" fill="#69707d" text-anchor="end" stroke="#69707d" stroke-width="0.12">$1,300</text>
<path d="M49.5,684.5 H966" stroke="#f0f1f4" stroke-width="0.7"/>
<text x="42.9" y="686.8" font-size="6.5" fill="#69707d" text-anchor="end" stroke="#69707d" stroke-width="0.12">$1,100</text>
<path d="M49.5,696.3 H966" stroke="#f0f1f4" stroke-width="0.7"/>
<text x="42.9" y="698.6" font-size="6.5" fill="#69707d" text-anchor="end" stroke="#69707d" stroke-width="0.12">$900</text>
<path d="M49.5,708.2 H966" stroke="#f0f1f4" stroke-width="0.7"/>
<text x="42.9" y="710.5" font-size="6.5" fill="#69707d" text-anchor="end" stroke="#69707d" stroke-width="0.12">$700</text>
<path d="M49.5,720.0 H966" stroke="#f0f1f4" stroke-width="0.7"/>
<text x="42.9" y="722.3" font-size="6.5" fill="#69707d" text-anchor="end" stroke="#69707d" stroke-width="0.12">$500</text>
<path d="M49.5,731.8 H966" stroke="#f0f1f4" stroke-width="0.7"/>
<text x="42.9" y="734.1" font-size="6.5" fill="#69707d" text-anchor="end" stroke="#69707d" stroke-width="0.12">$300</text>
<path d="M49.5,743.6 H966" stroke="#f0f1f4" stroke-width="0.7"/>
<text x="42.9" y="745.9" font-size="6.5" fill="#69707d" text-anchor="end" stroke="#69707d" stroke-width="0.12">$100</text>
<path d="M54.8,671 V753" stroke="#f0f1f4" stroke-width="0.7"/>
<path d="M124.7,671 V753" stroke="#f0f1f4" stroke-width="0.7"/>
<path d="M194.6,671 V753" stroke="#f0f1f4" stroke-width="0.7"/>
<path d="M264.5,671 V753" stroke="#f0f1f4" stroke-width="0.7"/>
<path d="M334.3,671 V753" stroke="#f0f1f4" stroke-width="0.7"/>
<path d="M404.2,671 V753" stroke="#f0f1f4" stroke-width="0.7"/>
<path d="M474.1,671 V753" stroke="#f0f1f4" stroke-width="0.7"/>
<path d="M544.0,671 V753" stroke="#f0f1f4" stroke-width="0.7"/>
<path d="M613.9,671 V753" stroke="#f0f1f4" stroke-width="0.7"/>
<path d="M683.8,671 V753" stroke="#f0f1f4" stroke-width="0.7"/>
<path d="M753.6,671 V753" stroke="#f0f1f4" stroke-width="0.7"/>
<path d="M823.5,671 V753" stroke="#f0f1f4" stroke-width="0.7"/>
<path d="M893.4,671 V753" stroke="#f0f1f4" stroke-width="0.7"/>
<path d="M963.3,671 V753" stroke="#f0f1f4" stroke-width="0.7"/>
<defs><clipPath id="cpB"><polygon points="54.8,725.5 124.7,718.5 194.6,705.2 264.5,687.8 334.3,697.0 404.2,695.3 474.1,721.2 544.0,702.0 613.9,717.8 683.8,716.1 753.6,721.5 823.5,712.4 893.4,711.0 963.3,703.3 963.3,750.1 54.8,750.1"/></clipPath><clipPath id="cpC"><polygon points="54.8,702.7 124.7,703.0 194.6,686.2 264.5,701.4 334.3,704.3 404.2,722.2 474.1,711.0 544.0,680.2 613.9,715.4 683.8,705.4 753.6,695.3 823.5,711.0 893.4,710.7 963.3,670.0 963.3,750.1 54.8,750.1"/></clipPath></defs>
<polygon points="54.8,702.7 124.7,703.0 194.6,686.2 264.5,701.4 334.3,704.3 404.2,722.2 474.1,711.0 544.0,680.2 613.9,715.4 683.8,705.4 753.6,695.3 823.5,711.0 893.4,710.7 963.3,670.0 963.3,750.1 54.8,750.1" fill="#efc5be"/>
<polygon points="54.8,725.5 124.7,718.5 194.6,705.2 264.5,687.8 334.3,697.0 404.2,695.3 474.1,721.2 544.0,702.0 613.9,717.8 683.8,716.1 753.6,721.5 823.5,712.4 893.4,711.0 963.3,703.3 963.3,750.1 54.8,750.1" fill="#4ee9e5"/>
<g clip-path="url(#cpB)"><rect x="50" y="665" width="920" height="90" fill="#b8c7c0" clip-path="url(#cpC)"/></g>
<polygon points="54.8,741.6 124.7,739.4 194.6,747.9 264.5,732.7 334.3,744.7 404.2,737.6 474.1,744.0 544.0,749.0 613.9,726.5 683.8,749.0 753.6,749.0 823.5,746.4 893.4,730.2 963.3,743.3 963.3,750.1 54.8,750.1" fill="#a9c592" opacity="0.3"/>
<polygon points="54.8,746.3 124.7,749.8 194.6,739.0 264.5,743.2 334.3,749.5 404.2,740.6 474.1,749.7 544.0,745.3 613.9,746.7 683.8,744.7 753.6,741.0 823.5,738.6 893.4,732.9 963.3,740.0 963.3,750.1 54.8,750.1" fill="#c4a6c6" opacity="0.22"/>
<circle cx="54.8" cy="702.7" r="0.7" fill="#f1c6c0"/>
<circle cx="124.7" cy="703.0" r="0.7" fill="#f1c6c0"/>
<circle cx="194.6" cy="686.2" r="0.7" fill="#f1c6c0"/>
<circle cx="264.5" cy="701.4" r="0.7" fill="#f1c6c0"/>
<circle cx="334.3" cy="704.3" r="0.7" fill="#f1c6c0"/>
<circle cx="404.2" cy="722.2" r="0.7" fill="#f1c6c0"/>
<circle cx="474.1" cy="711.0" r="0.7" fill="#f1c6c0"/>
<circle cx="544.0" cy="680.2" r="0.7" fill="#f1c6c0"/>
<circle cx="613.9" cy="715.4" r="0.7" fill="#f1c6c0"/>
<circle cx="683.8" cy="705.4" r="0.7" fill="#f1c6c0"/>
<circle cx="753.6" cy="695.3" r="0.7" fill="#f1c6c0"/>
<circle cx="823.5" cy="711.0" r="0.7" fill="#f1c6c0"/>
<circle cx="893.4" cy="710.7" r="0.7" fill="#f1c6c0"/>
<circle cx="963.3" cy="670.0" r="0.7" fill="#f1c6c0"/>
<circle cx="54.8" cy="725.5" r="0.7" fill="#45dde0"/>
<circle cx="124.7" cy="718.5" r="0.7" fill="#45dde0"/>
<circle cx="194.6" cy="705.2" r="0.7" fill="#45dde0"/>
<circle cx="264.5" cy="687.8" r="0.7" fill="#45dde0"/>
<circle cx="334.3" cy="697.0" r="0.7" fill="#45dde0"/>
<circle cx="404.2" cy="695.3" r="0.7" fill="#45dde0"/>
<circle cx="474.1" cy="721.2" r="0.7" fill="#45dde0"/>
<circle cx="544.0" cy="702.0" r="0.7" fill="#45dde0"/>
<circle cx="613.9" cy="717.8" r="0.7" fill="#45dde0"/>
<circle cx="683.8" cy="716.1" r="0.7" fill="#45dde0"/>
<circle cx="753.6" cy="721.5" r="0.7" fill="#45dde0"/>
<circle cx="823.5" cy="712.4" r="0.7" fill="#45dde0"/>
<circle cx="893.4" cy="711.0" r="0.7" fill="#45dde0"/>
<circle cx="963.3" cy="703.3" r="0.7" fill="#45dde0"/>
<circle cx="54.8" cy="741.6" r="0.7" fill="#c4ea6e"/>
<circle cx="124.7" cy="739.4" r="0.7" fill="#c4ea6e"/>
<circle cx="194.6" cy="747.9" r="0.7" fill="#c4ea6e"/>
<circle cx="264.5" cy="732.7" r="0.7" fill="#c4ea6e"/>
<circle cx="334.3" cy="744.7" r="0.7" fill="#c4ea6e"/>
<circle cx="404.2" cy="737.6" r="0.7" fill="#c4ea6e"/>
<circle cx="474.1" cy="744.0" r="0.7" fill="#c4ea6e"/>
<circle cx="544.0" cy="749.0" r="0.7" fill="#c4ea6e"/>
<circle cx="613.9" cy="726.5" r="0.7" fill="#c4ea6e"/>
<circle cx="683.8" cy="749.0" r="0.7" fill="#c4ea6e"/>
<circle cx="753.6" cy="749.0" r="0.7" fill="#c4ea6e"/>
<circle cx="823.5" cy="746.4" r="0.7" fill="#c4ea6e"/>
<circle cx="893.4" cy="730.2" r="0.7" fill="#c4ea6e"/>
<circle cx="963.3" cy="743.3" r="0.7" fill="#c4ea6e"/>
<circle cx="54.8" cy="746.3" r="0.7" fill="#f08ee0"/>
<circle cx="124.7" cy="749.8" r="0.7" fill="#f08ee0"/>
<circle cx="194.6" cy="739.0" r="0.7" fill="#f08ee0"/>
<circle cx="264.5" cy="743.2" r="0.7" fill="#f08ee0"/>
<circle cx="334.3" cy="749.5" r="0.7" fill="#f08ee0"/>
<circle cx="404.2" cy="740.6" r="0.7" fill="#f08ee0"/>
<circle cx="474.1" cy="749.7" r="0.7" fill="#f08ee0"/>
<circle cx="544.0" cy="745.3" r="0.7" fill="#f08ee0"/>
<circle cx="613.9" cy="746.7" r="0.7" fill="#f08ee0"/>
<circle cx="683.8" cy="744.7" r="0.7" fill="#f08ee0"/>
<circle cx="753.6" cy="741.0" r="0.7" fill="#f08ee0"/>
<circle cx="823.5" cy="738.6" r="0.7" fill="#f08ee0"/>
<circle cx="893.4" cy="732.9" r="0.7" fill="#f08ee0"/>
<circle cx="963.3" cy="740.0" r="0.7" fill="#f08ee0"/>
<path d="M293.6,671 V750.5" stroke="rgba(38,88,68,0.68)" stroke-width="1.3"/>
<path d="M289.70000000000005,757.6 h7.8 c-1.3,-1 -1.1,-2.4 -1.1,-4 c0,-1.8 -1.2,-3.1 -2.8,-3.1 c-1.6,0 -2.8,1.3 -2.8,3.1 c0,1.6 0.2,3 -1.1,4 z" fill="#fff" stroke="#2f4f43" stroke-width="0.8"/>
<path d="M292.6,758.2 a1,1 0 0 0 2,0" fill="none" stroke="#2f4f43" stroke-width="0.7"/>
<path d="M317,671 V750.5" stroke="rgba(38,88,68,0.68)" stroke-width="1.3"/>
<path d="M313.1,757.6 h7.8 c-1.3,-1 -1.1,-2.4 -1.1,-4 c0,-1.8 -1.2,-3.1 -2.8,-3.1 c-1.6,0 -2.8,1.3 -2.8,3.1 c0,1.6 0.2,3 -1.1,4 z" fill="#fff" stroke="#2f4f43" stroke-width="0.8"/>
<path d="M316,758.2 a1,1 0 0 0 2,0" fill="none" stroke="#2f4f43" stroke-width="0.7"/>
<path d="M677.7,671 V750.5" stroke="rgba(38,88,68,0.68)" stroke-width="1.3"/>
<path d="M673.8000000000001,757.6 h7.8 c-1.3,-1 -1.1,-2.4 -1.1,-4 c0,-1.8 -1.2,-3.1 -2.8,-3.1 c-1.6,0 -2.8,1.3 -2.8,3.1 c0,1.6 0.2,3 -1.1,4 z" fill="#fff" stroke="#2f4f43" stroke-width="0.8"/>
<path d="M676.7,758.2 a1,1 0 0 0 2,0" fill="none" stroke="#2f4f43" stroke-width="0.7"/>
<path d="M770.8,671 V750.5" stroke="rgba(38,88,68,0.68)" stroke-width="1.3"/>
<path d="M766.9,757.6 h7.8 c-1.3,-1 -1.1,-2.4 -1.1,-4 c0,-1.8 -1.2,-3.1 -2.8,-3.1 c-1.6,0 -2.8,1.3 -2.8,3.1 c0,1.6 0.2,3 -1.1,4 z" fill="#fff" stroke="#2f4f43" stroke-width="0.8"/>
<path d="M769.8,758.2 a1,1 0 0 0 2,0" fill="none" stroke="#2f4f43" stroke-width="0.7"/>
<text x="54.8" y="766.9" font-size="6.2" fill="#69707d" text-anchor="middle" textLength="45.7" lengthAdjust="spacing" stroke="#69707d" stroke-width="0.12">2023-02-02 00:00</text>
<text x="124.7" y="766.9" font-size="6.2" fill="#69707d" text-anchor="middle" textLength="45.7" lengthAdjust="spacing" stroke="#69707d" stroke-width="0.12">2023-02-02 12:00</text>
<text x="194.6" y="766.9" font-size="6.2" fill="#69707d" text-anchor="middle" textLength="45.7" lengthAdjust="spacing" stroke="#69707d" stroke-width="0.12">2023-02-03 00:00</text>
<text x="264.5" y="766.9" font-size="6.2" fill="#69707d" text-anchor="middle" textLength="45.7" lengthAdjust="spacing" stroke="#69707d" stroke-width="0.12">2023-02-03 12:00</text>
<text x="334.3" y="766.9" font-size="6.2" fill="#69707d" text-anchor="middle" textLength="45.7" lengthAdjust="spacing" stroke="#69707d" stroke-width="0.12">2023-02-04 00:00</text>
<text x="404.2" y="766.9" font-size="6.2" fill="#69707d" text-anchor="middle" textLength="45.7" lengthAdjust="spacing" stroke="#69707d" stroke-width="0.12">2023-02-04 12:00</text>
<text x="474.1" y="766.9" font-size="6.2" fill="#69707d" text-anchor="middle" textLength="45.7" lengthAdjust="spacing" stroke="#69707d" stroke-width="0.12">2023-02-05 00:00</text>
<text x="544.0" y="766.9" font-size="6.2" fill="#69707d" text-anchor="middle" textLength="45.7" lengthAdjust="spacing" stroke="#69707d" stroke-width="0.12">2023-02-05 12:00</text>
<text x="613.9" y="766.9" font-size="6.2" fill="#69707d" text-anchor="middle" textLength="45.7" lengthAdjust="spacing" stroke="#69707d" stroke-width="0.12">2023-02-06 00:00</text>
<text x="683.8" y="766.9" font-size="6.2" fill="#69707d" text-anchor="middle" textLength="45.7" lengthAdjust="spacing" stroke="#69707d" stroke-width="0.12">2023-02-06 12:00</text>
<text x="753.6" y="766.9" font-size="6.2" fill="#69707d" text-anchor="middle" textLength="45.7" lengthAdjust="spacing" stroke="#69707d" stroke-width="0.12">2023-02-07 00:00</text>
<text x="823.5" y="766.9" font-size="6.2" fill="#69707d" text-anchor="middle" textLength="45.7" lengthAdjust="spacing" stroke="#69707d" stroke-width="0.12">2023-02-07 12:00</text>
<text x="893.4" y="766.9" font-size="6.2" fill="#69707d" text-anchor="middle" textLength="45.7" lengthAdjust="spacing" stroke="#69707d" stroke-width="0.12">2023-02-08 00:00</text>
<text x="963.3" y="766.9" font-size="6.2" fill="#69707d" text-anchor="middle" textLength="45.7" lengthAdjust="spacing" stroke="#69707d" stroke-width="0.12">2023-02-08 12:00</text>
<text x="509.0" y="778.2" font-size="7.6" fill="#343741" font-weight="bold" text-anchor="middle" textLength="42.0" lengthAdjust="spacing" stroke="#343741" stroke-width="0.12">per 12 hours</text>
<circle cx="30.9" cy="796.3" r="2.2" fill="#f27fdc"/>
<text x="38.6" y="798.9" font-size="7.4" fill="#343741" textLength="59.5" lengthAdjust="spacing" stroke="#343741" stroke-width="0.12">Revenue Trousers</text>
<text x="117.3" y="798.9" font-size="7.4" fill="#343741" textLength="31.9" lengthAdjust="spacing" stroke="#343741" stroke-width="0.12">$166.906</text>
<circle cx="170.4" cy="796.3" r="2.2" fill="#b5e46f"/>
<text x="177.8" y="798.9" font-size="7.4" fill="#343741" textLength="59.8" lengthAdjust="spacing" stroke="#343741" stroke-width="0.12">Revenue Watches</text>
<text x="261.4" y="798.9" font-size="7.4" fill="#343741" textLength="27.2" lengthAdjust="spacing" stroke="#343741" stroke-width="0.12">$96.938</text>
<circle cx="310.8" cy="796.3" r="2.2" fill="#24dfe2"/>
<text x="318.2" y="798.9" font-size="7.4" fill="#343741" textLength="47.0" lengthAdjust="spacing" stroke="#343741" stroke-width="0.12">Revenue Bags</text>
<text x="396.5" y="798.9" font-size="7.4" fill="#343741" textLength="32.0" lengthAdjust="spacing" stroke="#343741" stroke-width="0.12">$780.813</text>
<circle cx="450.2" cy="796.3" r="2.2" fill="#ecb4ae"/>
<text x="457.5" y="798.9" font-size="7.4" fill="#343741" textLength="65.0" lengthAdjust="spacing" stroke="#343741" stroke-width="0.12">Revenue Cocktail ...</text>
<text x="530.0" y="798.9" font-size="7.4" fill="#343741" textLength="38.0" lengthAdjust="spacing" stroke="#343741" stroke-width="0.12">$1,333.844</text>
<defs><clipPath id="cpM"><rect x="13.0" y="841.0" width="484.8" height="221.3"/></clipPath></defs>
<g clip-path="url(#cpM)">
<rect x="13.0" y="841.0" width="484.8" height="221.3" fill="#9fcddb"/>
<polygon points="10.0,838.0 164.5,839.6 164.5,841.2 158.5,847.5 152.5,855.7 156.6,851.4 163.3,848.3 171.2,847.2 173.9,849.9 169.9,853.5 172.0,858.6 180.7,862.0 187.3,859.3 188.3,863.3 180.7,867.7 173.1,872.0 168.0,874.8 166.4,870.9 171.2,866.8 164.5,868.4 158.5,872.3 152.2,877.2 149.8,882.3 153.3,885.1 148.3,888.3 141.9,892.5 137.2,895.7 133.6,900.5 133.2,904.4 134.5,907.6 130.9,912.0 124.5,918.3 118.2,925.3 115.4,932.5 116.7,939.3 119.2,945.5 117.7,950.9 115.0,947.9 111.8,941.8 110.0,936.3 105.8,933.1 100.2,934.8 94.0,931.9 84.1,932.6 74.7,934.3 66.3,938.8 61.9,945.5 60.1,954.1 59.9,960.3 63.1,968.9 69.3,974.6 76.7,975.1 82.9,972.6 84.9,966.5 95.8,964.9 93.6,973.2 90.2,981.5 89.1,985.9 106.8,987.0 108.5,991.5 105.7,999.5 108.5,1005.3 116.5,1009.5 123.4,1008.1 127.9,1009.5 132.3,1006.4 140.0,1002.5 147.1,998.1 148.8,1002.3 154.5,1001.0 158.2,999.8 168.1,1003.0 178.0,1004.7 182.9,1008.5 187.9,1010.9 197.7,1014.6 207.6,1020.8 215.0,1028.2 222.5,1038.1 232.3,1044.3 244.7,1048.0 260.0,1051.7 259.9,1050.0 267.3,1056.6 274.7,1064.0 115.1,1063.1 116.5,1050.7 120.7,1035.5 124.8,1025.8 129.0,1018.9 131.7,1012.5 127.6,1011.4 122.1,1014.2 116.5,1013.3 107.4,1008.6 101.3,1003.1 93.0,996.7 83.3,993.1 76.4,992.0 66.7,989.3 55.7,986.5 46.0,981.5 36.3,974.6 30.8,966.3 28.5,956.6 21.1,946.7 16.9,940.5 10.0,935.6" fill="#f1eee6" stroke="#dfe4e2" stroke-width="0.5"/>
<polygon points="15.6,954.6 18.6,956.2 19.0,958.6 16.2,957.4" fill="#f1eee6" stroke="#dfe4e2" stroke-width="0.5"/>
<polygon points="78.7,857.0 85.8,851.4 92.1,849.1 98.5,851.4 102.4,855.4 104.0,859.3 98.5,857.0 93.7,858.6 87.4,857.8 81.9,860.1" fill="#9fcddb"/>
<polygon points="94.5,867.2 99.2,864.9 100.8,871.2 99.2,879.1 96.1,883.1 93.7,878.3 92.9,872.0" fill="#9fcddb"/>
<polygon points="105.6,863.3 111.9,861.7 117.4,865.7 119.8,869.6 115.8,873.6 111.9,872.0 109.5,875.2 107.2,872.0 107.9,867.2" fill="#9fcddb"/>
<polygon points="109.2,881.5 115.8,879.4 122.2,876.7 123.0,878.3 117.4,882.0 111.1,883.8" fill="#9fcddb"/>
<polygon points="123.0,873.6 129.8,872.0 130.4,874.0 124.5,875.9" fill="#9fcddb"/>
<polygon points="190.9,853.0 194.1,846.7 198.1,842.4 201.2,842.7 202.0,846.7 206.8,844.3 209.9,847.5 209.1,852.2 212.3,855.4 211.5,859.3 207.5,856.2 202.8,858.6 199.6,855.4 194.9,854.6" fill="#f1eee6" stroke="#dfe4e2" stroke-width="0.5"/>
<polygon points="172.8,844.0 179.1,845.0 178.8,846.2 173.6,845.6" fill="#f1eee6" stroke="#dfe4e2" stroke-width="0.5"/>
<polygon points="174.3,853.8 180.7,854.6 180.4,855.9 174.7,855.4" fill="#f1eee6" stroke="#dfe4e2" stroke-width="0.5"/>
<polygon points="105.1,961.0 111.3,958.6 121.2,960.3 131.0,965.2 138.5,968.9 137.2,970.9 128.6,970.2 118.7,964.5 108.8,963.5" fill="#f1eee6" stroke="#dfe4e2" stroke-width="0.5"/>
<polygon points="142.2,972.6 148.3,970.9 157.0,973.4 158.2,976.3 150.8,976.8 143.4,976.3" fill="#f1eee6" stroke="#dfe4e2" stroke-width="0.5"/>
<polygon points="163.2,975.4 168.1,975.4 168.1,977.6 163.2,977.6" fill="#f1eee6" stroke="#dfe4e2" stroke-width="0.5"/>
<polygon points="126.1,976.3 131.5,976.3 131.5,978.3 126.1,978.3" fill="#f1eee6" stroke="#dfe4e2" stroke-width="0.5"/>
<polygon points="371.5,909.1 378.5,909.6 388.3,906.7 400.7,904.2 413.0,903.5 422.9,902.7 428.4,905.9 426.6,912.1 429.1,918.3 434.0,922.0 447.6,924.0 454.5,929.9 460.0,924.5 467.4,921.5 476.0,923.2 484.7,926.4 499.5,927.4 499.5,1064.0 433.3,1064.0 428.4,1052.9 424.4,1043.0 425.9,1033.7 420.5,1025.7 410.6,1019.6 398.2,1019.6 383.4,1022.0 366.1,1023.8 358.7,1019.6 348.8,1012.2 342.6,1006.0 336.5,997.3 333.5,987.5 334.5,976.3 335.2,965.2 341.9,954.1 350.0,943.0 356.2,935.6 359.9,928.2 366.1,918.3" fill="#f1eee6" stroke="#dfe4e2" stroke-width="0.5"/>
<polygon points="398.2,838.0 499.5,838.0 499.5,858.0 489.9,860.5 486.4,867.9 485.9,876.0 488.9,880.5 499.5,882.5 499.5,904.7 490.9,903.5 487.2,898.5 483.4,896.1 484.7,888.6 481.0,886.2 473.6,887.4 469.9,891.1 473.6,896.1 472.3,902.7 468.6,905.9 464.9,901.0 462.0,894.8 458.7,891.1 456.3,883.7 450.1,875.1 445.2,870.1 439.0,865.2 435.3,866.4 437.7,872.6 447.6,883.7 455.5,889.9 458.0,896.1 453.1,894.3 448.9,902.7 445.7,898.5 441.5,888.6 434.0,880.0 429.1,871.3 424.2,867.2 415.5,872.6 403.2,875.1 395.8,883.7 392.0,891.1 388.3,897.3 378.5,904.2 372.3,907.2 366.1,904.2 362.4,903.5 361.2,894.8 362.4,886.2 360.7,880.0 362.4,876.3 367.3,874.6 388.3,878.3 385.4,872.6 382.2,863.9 377.2,855.3 376.5,851.6 384.6,850.4 388.3,846.6 393.3,847.9" fill="#f1eee6" stroke="#dfe4e2" stroke-width="0.5"/>
<polygon points="420.5,878.8 422.9,877.5 423.4,884.9 420.9,884.4" fill="#f1eee6" stroke="#dfe4e2" stroke-width="0.5"/>
<polygon points="421.2,887.4 424.9,886.9 425.4,895.3 421.7,896.1" fill="#f1eee6" stroke="#dfe4e2" stroke-width="0.5"/>
<polygon points="437.7,901.7 447.6,900.3 446.4,905.9 439.0,904.2" fill="#f1eee6" stroke="#dfe4e2" stroke-width="0.5"/>
<polygon points="472.3,910.9 482.2,910.9 482.2,912.6 472.3,912.1" fill="#f1eee6" stroke="#dfe4e2" stroke-width="0.5"/>
<polyline points="10.0,847.9 68.1,847.9 71.6,849.1 89.0,851.4 103.2,858.6 108.7,863.3 111.9,872.0 109.5,881.5 122.2,875.9 130.9,872.0 149.1,866.5 153.8,857.0 158.5,855.7 162.5,866.5 171.2,868.0" fill="none" stroke="#c6afc6" stroke-width="0.7"/>
<polyline points="13.0,927.0 23.5,927.0 24.0,925.4 29.4,925.4 35.0,931.0 37.6,934.6 40.4,936.4 43.0,933.4 47.0,933.2 50.4,938.0 54.4,945.0 57.6,947.4 61.0,948.4" fill="none" stroke="#c6afc6" stroke-width="0.7"/>
<polyline points="82.5,975.4 88.9,974.6 90.2,981.5" fill="none" stroke="#c6afc6" stroke-width="0.7"/>
<polyline points="77.8,991.2 82.5,981.5 88.9,985.7 93.0,995.3" fill="none" stroke="#c6afc6" stroke-width="0.7"/>
<polyline points="88.9,985.7 98.5,984.3 106.8,987.6" fill="none" stroke="#c6afc6" stroke-width="0.7"/>
<polyline points="93.0,995.3 99.9,989.8 106.8,991.2" fill="none" stroke="#c6afc6" stroke-width="0.7"/>
<polyline points="101.3,1002.3 106.8,999.5" fill="none" stroke="#c6afc6" stroke-width="0.7"/>
<polyline points="107.4,1007.8 110.2,1005.9" fill="none" stroke="#c6afc6" stroke-width="0.7"/>
<polyline points="131.7,1012.5 132.3,1006.4" fill="none" stroke="#c6afc6" stroke-width="0.7"/>
<polyline points="147.1,998.6 143.4,1010.9 148.3,1015.9 160.7,1018.3 161.9,1033.2 153.3,1035.6 154.5,1043.0 152.0,1055.4" fill="none" stroke="#c6afc6" stroke-width="0.7"/>
<polyline points="126.1,1035.6 134.8,1039.3 138.5,1048.0 153.3,1050.5" fill="none" stroke="#c6afc6" stroke-width="0.7"/>
<polyline points="160.7,1018.3 171.8,1025.7 182.9,1020.8 187.9,1010.9" fill="none" stroke="#c6afc6" stroke-width="0.7"/>
<polyline points="182.9,1020.8 187.9,1033.2 197.7,1034.4 197.7,1015.9" fill="none" stroke="#c6afc6" stroke-width="0.7"/>
<polyline points="197.7,1034.4 207.6,1033.2 207.6,1022.0" fill="none" stroke="#c6afc6" stroke-width="0.7"/>
<polyline points="207.6,1033.2 215.0,1029.5" fill="none" stroke="#c6afc6" stroke-width="0.7"/>
<polyline points="359.9,928.2 369.8,925.7 383.4,919.5 387.1,912.1" fill="none" stroke="#c6afc6" stroke-width="0.7"/>
<polyline points="350.0,943.0 362.4,943.0 362.4,936.8 369.8,933.1" fill="none" stroke="#c6afc6" stroke-width="0.7"/>
<polyline points="362.4,943.0 403.2,972.6 432.8,957.8 425.4,950.4 420.5,922.0 420.5,904.2" fill="none" stroke="#c6afc6" stroke-width="0.7"/>
<polyline points="369.8,951.6 373.5,986.2 334.0,986.2" fill="none" stroke="#c6afc6" stroke-width="0.7"/>
<polyline points="342.6,954.1 350.0,954.1 348.8,965.2 335.2,965.2" fill="none" stroke="#c6afc6" stroke-width="0.7"/>
<polyline points="373.5,986.2 405.6,983.8 405.6,972.6" fill="none" stroke="#c6afc6" stroke-width="0.7"/>
<polyline points="432.8,957.8 445.2,959.0 472.3,971.4 476.0,923.2" fill="none" stroke="#c6afc6" stroke-width="0.7"/>
<polyline points="445.2,959.0 442.7,991.2 405.6,992.4" fill="none" stroke="#c6afc6" stroke-width="0.7"/>
<polyline points="472.3,971.4 472.3,986.2 467.4,996.1 471.1,1008.5 497.8,1015.9" fill="none" stroke="#c6afc6" stroke-width="0.7"/>
<polyline points="476.0,961.5 497.8,961.5" fill="none" stroke="#c6afc6" stroke-width="0.7"/>
<polyline points="405.6,992.4 403.2,1008.5 409.3,1019.6" fill="none" stroke="#c6afc6" stroke-width="0.7"/>
<polyline points="442.7,991.2 437.7,1010.9 425.4,1033.2" fill="none" stroke="#c6afc6" stroke-width="0.7"/>
<polyline points="437.7,1010.9 467.4,1008.5" fill="none" stroke="#c6afc6" stroke-width="0.7"/>
<polyline points="373.5,996.1 380.9,1003.5 380.9,1022.0" fill="none" stroke="#c6afc6" stroke-width="0.7"/>
<polyline points="347.6,996.1 361.2,998.6 373.5,996.1" fill="none" stroke="#c6afc6" stroke-width="0.7"/>
<polyline points="363.6,1008.5 364.9,1023.3" fill="none" stroke="#c6afc6" stroke-width="0.7"/>
<polyline points="395.8,1003.5 398.2,1019.6" fill="none" stroke="#c6afc6" stroke-width="0.7"/>
<polyline points="452.6,1025.7 472.3,1020.8 497.8,1033.2" fill="none" stroke="#c6afc6" stroke-width="0.7"/>
<polyline points="427.9,1052.9 447.6,1050.5 455.0,1025.7" fill="none" stroke="#c6afc6" stroke-width="0.7"/>
<polyline points="388.3,878.3 398.2,881.2 395.8,883.7" fill="none" stroke="#c6afc6" stroke-width="0.7"/>
<polyline points="367.3,874.6 366.1,888.6 362.4,897.3" fill="none" stroke="#c6afc6" stroke-width="0.7"/>
<polyline points="413.0,847.9 418.0,857.8 415.5,865.2 420.5,868.9" fill="none" stroke="#c6afc6" stroke-width="0.7"/>
<polyline points="418.0,857.8 437.7,859.0 439.0,865.2" fill="none" stroke="#c6afc6" stroke-width="0.7"/>
<polyline points="427.9,838.0 432.8,847.9 447.6,850.4 455.0,842.9 472.3,845.4 487.2,851.6 493.3,852.8" fill="none" stroke="#c6afc6" stroke-width="0.7"/>
<polyline points="447.6,850.4 445.2,860.2 460.0,865.2 472.3,867.6 491.6,862.7" fill="none" stroke="#c6afc6" stroke-width="0.7"/>
<polyline points="460.0,865.2 456.3,875.1 460.0,883.7 469.9,887.4" fill="none" stroke="#c6afc6" stroke-width="0.7"/>
<polyline points="472.3,867.6 473.6,877.5 484.7,880.0 484.7,887.4" fill="none" stroke="#c6afc6" stroke-width="0.7"/>
</g>
<text x="33.9" y="903.4" font-size="6.6" fill="#8a6f91" textLength="40.9" lengthAdjust="spacing" stroke="#8a6f91" stroke-width="0.12">United States</text>
<text x="33.0" y="958.2" font-size="6.6" fill="#8a6f91" textLength="21.0" lengthAdjust="spacing" stroke="#8a6f91" stroke-width="0.12">México</text>
<text x="130.0" y="1027.5" font-size="6.4" fill="#8a6f91" textLength="28.5" lengthAdjust="spacing" stroke="#8a6f91" stroke-width="0.12">Colombia</text>
<text x="388.7" y="860.2" font-size="6.6" fill="#8a6f91" textLength="20.5" lengthAdjust="spacing" stroke="#8a6f91" stroke-width="0.12">France</text>
<text x="369.8" y="893.2" font-size="6.6" fill="#8a6f91" textLength="21.7" lengthAdjust="spacing" stroke="#8a6f91" stroke-width="0.12">España</text>
<text x="431.5" y="884.0" font-size="6.4" fill="#8a6f91" textLength="15.5" lengthAdjust="spacing" stroke="#8a6f91" stroke-width="0.12">Italia</text>
<text x="461.0" y="864.8" font-size="6.4" fill="#8a6f91" textLength="26.5" lengthAdjust="spacing" stroke="#8a6f91" stroke-width="0.12">România</text>
<text x="458.0" y="897.6" font-size="6.2" fill="#a79ab0" textLength="17.0" lengthAdjust="spacing" stroke="#a79ab0" stroke-width="0.12">Ελλάς</text>
<text x="381.0" y="933.4" font-size="6.6" fill="#8a6f91" textLength="25.7" lengthAdjust="spacing" stroke="#8a6f91" stroke-width="0.12">Algérie /</text>
<text x="376.7" y="940.8" font-size="6" fill="#8a6f91" textLength="35.0" lengthAdjust="spacing" stroke="#8a6f91" stroke-width="0.12">ⵍⵣⵣⴰⵢⴻⵔ /</text>
<text x="385.5" y="948.4" font-size="6.4" fill="#8a6f91" textLength="16.0" lengthAdjust="spacing" stroke="#8a6f91" stroke-width="0.12">الجزائر</text>
<text x="446.0" y="948.2" font-size="6.4" fill="#8a6f91" textLength="11.0" lengthAdjust="spacing" stroke="#8a6f91" stroke-width="0.12">ليبيا</text>
<text x="486.0" y="946.2" font-size="6.4" fill="#8a6f91" textLength="10.0" lengthAdjust="spacing" stroke="#8a6f91" stroke-width="0.12">مصر</text>
<text x="341.5" y="969.0" font-size="6.4" fill="#8a6f91" textLength="22.0" lengthAdjust="spacing" stroke="#8a6f91" stroke-width="0.12">موريتانيا</text>
<text x="382.5" y="980.6" font-size="6.6" fill="#8a6f91" textLength="13.5" lengthAdjust="spacing" stroke="#8a6f91" stroke-width="0.12">Mali</text>
<text x="417.5" y="981.0" font-size="6.6" fill="#8a6f91" textLength="16.5" lengthAdjust="spacing" stroke="#8a6f91" stroke-width="0.12">Niger</text>
<text x="439.5" y="988.4" font-size="6.4" fill="#8a6f91" textLength="31.5" lengthAdjust="spacing" stroke="#8a6f91" stroke-width="0.12">Tchad تشاد</text>
<text x="482.0" y="989.2" font-size="6.4" fill="#8a6f91" textLength="16.0" lengthAdjust="spacing" stroke="#8a6f91" stroke-width="0.12">سودان</text>
<text x="407.5" y="1011.2" font-size="6.6" fill="#8a6f91" textLength="22.0" lengthAdjust="spacing" stroke="#8a6f91" stroke-width="0.12">Nigeria</text>
<text x="471.5" y="1015.5" font-size="6.6" fill="#8a6f91" textLength="26.5" lengthAdjust="spacing" stroke="#8a6f91" stroke-width="0.12">South Su</text>
<text x="451.0" y="1049.4" font-size="6.6" fill="#8a6f91" textLength="34.0" lengthAdjust="spacing" stroke="#8a6f91" stroke-width="0.12">République</text>
<rect x="20" y="847.6" width="19" height="37.2" rx="1.4" fill="#fff" stroke="#b9b9b9" stroke-width="0.7"/>
<path d="M20.3,866.2 H38.7" stroke="#dcdcdc" stroke-width="0.7"/>
<circle cx="29.5" cy="857" r="4.3" fill="#1a1a1a"/><path d="M26.7,857 h5.6 M29.5,854.2 v5.6" stroke="#fff" stroke-width="1"/>
<circle cx="29.5" cy="875.3" r="4.3" fill="#1a1a1a"/><path d="M26.7,875.3 h5.6" stroke="#fff" stroke-width="1.2"/>
<g clip-path="url(#cpM)">
<circle cx="140" cy="887.3" r="9.4" fill="#4aaa8c"/>
<text x="136.2" y="891.3" font-size="11.2" fill="#b81c22" font-weight="bold" textLength="18.0" lengthAdjust="spacing" stroke="#b81c22" stroke-width="0.35">213</text>
<circle cx="415.5" cy="874.6" r="7" fill="#4aaa8c"/>
<text x="413.0" y="878.8" font-size="11.2" fill="#b81c22" font-weight="bold" textLength="17.0" lengthAdjust="spacing" stroke="#b81c22" stroke-width="0.35">115</text>
<circle cx="364.4" cy="926.2" r="6.4" fill="#4aaa8c"/>
<text x="361.2" y="930.4" font-size="11.2" fill="#b81c22" font-weight="bold" textLength="11.3" lengthAdjust="spacing" stroke="#b81c22" stroke-width="0.35">90</text>
<circle cx="490.9" cy="886.2" r="5.5" fill="#4aaa8c"/>
<text x="486.7" y="890.4" font-size="11.2" fill="#b81c22" font-weight="bold" textLength="11.3" lengthAdjust="spacing" stroke="#b81c22" stroke-width="0.35">49</text>
<circle cx="496.5" cy="931.9" r="6" fill="#4aaa8c"/>
<text x="494.8" y="936.0" font-size="11.2" fill="#b81c22" font-weight="bold" textLength="11.0" lengthAdjust="spacing" stroke="#b81c22" stroke-width="0.35">11</text>
<circle cx="139" cy="1023.8" r="4" fill="#4aaa8c"/>
<text x="136.5" y="1028.2" font-size="11.2" fill="#b81c22" font-weight="bold" textLength="11.2" lengthAdjust="spacing" stroke="#b81c22" stroke-width="0.35">35</text>
</g>
<rect x="372.3" y="1053.3" width="125.5" height="9" fill="#ffffff" opacity="0.8"/>
<text x="375.5" y="1060.4" font-size="6.8" fill="#333" textLength="119.0" lengthAdjust="spacing" stroke="#333" stroke-width="0.12">Map data © OpenStreetMap contributors</text>
<text x="631.3" y="873.4" font-size="28" fill="#bc52bc" textLength="103.3" lengthAdjust="spacing" stroke="#bc52bc" stroke-width="0.45">Lace-up</text>
<text x="744.6" y="873.4" font-size="28" fill="#bc52bc" textLength="70.8" lengthAdjust="spacing" stroke="#bc52bc" stroke-width="0.45">boots</text>
<text x="845.4" y="873.4" font-size="28" fill="#bc52bc" textLength="65.6" lengthAdjust="spacing" stroke="#bc52bc" stroke-width="0.45">black</text>
<rect x="825.2" y="864.5" width="9.6" height="2.6" fill="#bc52bc"/>
<text x="658.9" y="907.7" font-size="38" fill="#6f87d8" textLength="101.5" lengthAdjust="spacing" stroke="#6f87d8" stroke-width="0.61">Boots</text>
<text x="799.8" y="907.7" font-size="38" fill="#6f87d8" textLength="93.6" lengthAdjust="spacing" stroke="#6f87d8" stroke-width="0.61">black</text>
<rect x="774.3" y="894.6" width="12.6" height="3.3" fill="#6f87d8"/>
<text x="556.6" y="906.6" font-size="16.6" fill="#9e3533" textLength="32.4" lengthAdjust="spacing" stroke="#9e3533" stroke-width="0.27">Vest</text>
<text x="606.3" y="906.6" font-size="16.6" fill="#9e3533" textLength="40.6" lengthAdjust="spacing" stroke="#9e3533" stroke-width="0.27">black</text>
<rect x="596" y="900.6" width="5.8" height="1.4" fill="#9e3533"/>
<text x="556.5" y="946.4" font-size="44" fill="#00a69b" textLength="93.5" lengthAdjust="spacing" stroke="#00a69b" stroke-width="0.70">Print</text>
<text x="663.0" y="946.4" font-size="44" fill="#00a69b" textLength="136.6" lengthAdjust="spacing" stroke="#00a69b" stroke-width="0.70">T-shirt</text>
<text x="844.6" y="946.4" font-size="44" fill="#00a69b" textLength="108.2" lengthAdjust="spacing" stroke="#00a69b" stroke-width="0.70">black</text>
<rect x="815.7" y="931.2" width="14.7" height="4.1" fill="#00a69b"/>
<text x="581.4" y="981.1" font-size="38.4" fill="#57c17b" textLength="99.3" lengthAdjust="spacing" stroke="#57c17b" stroke-width="0.61">Ankle</text>
<text x="691.7" y="981.1" font-size="38.4" fill="#57c17b" textLength="98.7" lengthAdjust="spacing" stroke="#57c17b" stroke-width="0.61">boots</text>
<text x="832.7" y="981.1" font-size="38.4" fill="#57c17b" textLength="92.5" lengthAdjust="spacing" stroke="#57c17b" stroke-width="0.61">black</text>
<rect x="805.2" y="967.4" width="12.8" height="3.6" fill="#57c17b"/>
<text x="589.9" y="1013.0" font-size="33.5" fill="#663db8" textLength="161.9" lengthAdjust="spacing" stroke="#663db8" stroke-width="0.54">Sweatshirt</text>
<text x="789.3" y="1013.0" font-size="33.5" fill="#663db8" textLength="79.2" lengthAdjust="spacing" stroke="#663db8" stroke-width="0.54">black</text>
<rect x="765.7" y="1002.2" width="10.6" height="3.2" fill="#663db8"/>
<text x="666.1" y="1027.9" font-size="11.3" fill="#daa05d" textLength="103.3" lengthAdjust="spacing" stroke="#daa05d" stroke-width="0.15">Jersey dress - black</text>
</svg>
</body>
</html>
